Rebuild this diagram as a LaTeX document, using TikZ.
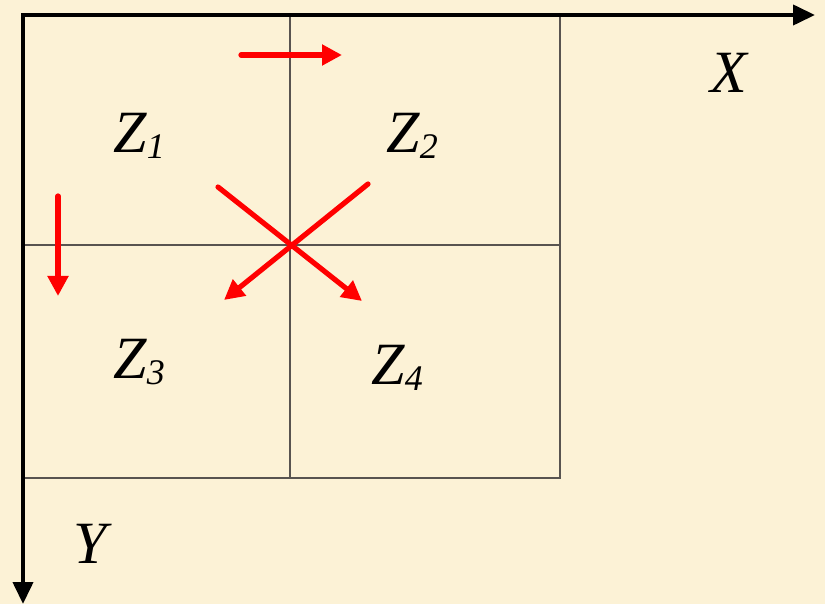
\documentclass[tikz,border=0pt]{standalone}
\usepackage{fontspec}
\setmainfont{Liberation Serif}
\usetikzlibrary{arrows.meta}
\definecolor{parchment}{RGB}{252,242,214}
\definecolor{gridline}{RGB}{88,84,80}
\newcommand{\zone}[1]{Z\raisebox{-3pt}{\fontsize{18}{18}\selectfont #1}}

\begin{document}
\begin{tikzpicture}[x=0.5pt, y=-0.5pt,
    axis/.style={line width=2pt, -{Triangle[length=11pt,width=10pt]}},
    move/.style={red, line width=2.6pt, line cap=round, -{Triangle[length=10pt,width=10pt]}},
    label/.style={anchor=base west, inner sep=0pt, font=\fontsize{30}{30}\selectfont\itshape}]
\fill[parchment] (0,0) rectangle (825,604);
\useasboundingbox (0,0) rectangle (825,604);
% zones
\coordinate (o) at (23,15);
\coordinate (mid) at (290,245);
\draw[gridline, line width=1pt] (o) rectangle (560,478);
\draw[gridline, line width=1pt] (290,15) -- (290,478);
\draw[gridline, line width=1pt] (23,245) -- (560,245);
% axes
\coordinate (xend) at (815,15);
\coordinate (yend) at (23,604);
\draw[axis] (21,15) -- (xend);
\draw[axis] (o) -- (yend);
\node[label] (xl) at (710,93) {X};
\node[label] (yl) at (73,563) {Y};
\node[label] (z1) at (113,153) {\zone{1}};
\node[label] (z2) at (386,153) {\zone{2}};
\node[label] (z3) at (113,379) {\zone{3}};
\node[label] (z4) at (371,385) {\zone{4}};
% scan directions
\coordinate (h1) at (241,55);  \coordinate (h2) at (342,55);
\coordinate (v1) at (58,196);  \coordinate (v2) at (58,296);
\coordinate (d1) at (218,187); \coordinate (d2) at (362,301);
\coordinate (e1) at (368,184); \coordinate (e2) at (224,300);
\draw[move] (h1) -- (h2);
\draw[move] (v1) -- (v2);
\draw[move] (d1) -- (d2);
\draw[move] (e1) -- (e2);
\end{tikzpicture}
\end{document}
